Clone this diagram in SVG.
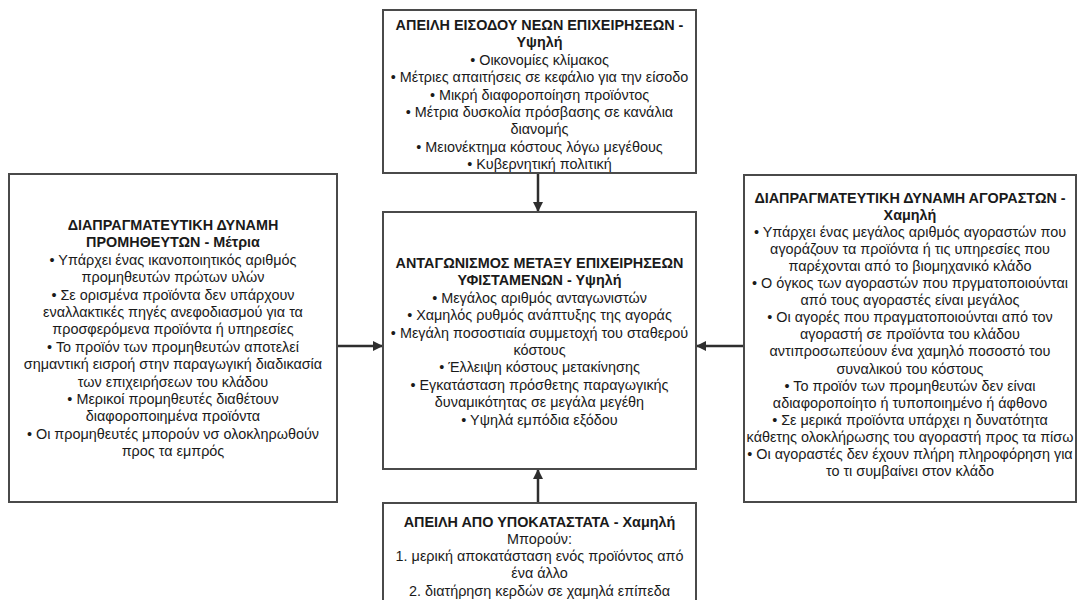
<svg xmlns="http://www.w3.org/2000/svg" width="1085" height="600" viewBox="0 0 1085 600">
  <style>
    .box { fill: #ffffff; stroke: #4a4a4a; stroke-width: 2; }
    text { font-family: "Liberation Sans", Arial, sans-serif; font-size: 14.4px; fill: #1a1a1a; text-anchor: middle; }
    .b { font-weight: bold; }
    .conn { stroke: #2e2e2e; stroke-width: 2.5; fill: none; marker-end: url(#arrow); }
  </style>
  <defs>
    <marker id="arrow" viewBox="0 0 10 10" refX="9" refY="5" markerWidth="4" markerHeight="4" orient="auto">
      <path d="M0,0 L10,5 L0,10 z" fill="#2e2e2e"/>
    </marker>
  </defs>
  <rect width="1085" height="600" fill="#ffffff"/>

  <g id="connectors">
    <line class="conn" x1="538" y1="173" x2="538" y2="211"/>
    <line class="conn" x1="538" y1="503" x2="538" y2="470"/>
    <line class="conn" x1="337" y1="346" x2="382" y2="346"/>
    <line class="conn" x1="744" y1="346" x2="697" y2="346"/>
  </g>

  <g id="entry-threat">
    <rect class="box" x="383" y="10" width="313" height="163"/>
    <text x="539.5" y="30" class="b">ΑΠΕΙΛΗ ΕΙΣΟΔΟΥ ΝΕΩΝ ΕΠΙΧΕΙΡΗΣΕΩΝ -</text>
    <text x="539.5" y="47.4" class="b">Υψηλή</text>
    <text x="539.5" y="64.8">• Οικονομίες κλίμακος</text>
    <text x="539.5" y="82.2">• Μέτριες απαιτήσεις σε κεφάλιο για την είσοδο</text>
    <text x="539.5" y="99.6">• Μικρή διαφοροποίηση προϊόντος</text>
    <text x="539.5" y="117">• Μέτρια δυσκολία πρόσβασης σε κανάλια</text>
    <text x="539.5" y="134.4">διανομής</text>
    <text x="539.5" y="151.8">• Μειονέκτημα κόστους λόγω μεγέθους</text>
    <text x="539.5" y="169.2">• Κυβερνητική πολιτική</text>
  </g>

  <g id="suppliers">
    <rect class="box" x="9" y="174" width="328" height="328"/>
    <text x="173" y="230" class="b">ΔΙΑΠΡΑΓΜΑΤΕΥΤΙΚΗ ΔΥΝΑΜΗ</text>
    <text x="173" y="247.4" class="b">ΠΡΟΜΗΘΕΥΤΩΝ - Μέτρια</text>
    <text x="173" y="264.8">• Υπάρχει ένας ικανοποιητικός αριθμός</text>
    <text x="173" y="282.2">προμηθευτών πρώτων υλών</text>
    <text x="173" y="299.6">• Σε ορισμένα προϊόντα δεν υπάρχουν</text>
    <text x="173" y="317">εναλλακτικές πηγές ανεφοδιασμού για τα</text>
    <text x="173" y="334.4">προσφερόμενα προϊόντα ή υπηρεσίες</text>
    <text x="173" y="351.8">• Το προϊόν των προμηθευτών αποτελεί</text>
    <text x="173" y="369.2">σημαντική εισροή στην παραγωγική διαδικασία</text>
    <text x="173" y="386.6">των επιχειρήσεων του κλάδου</text>
    <text x="173" y="404">• Μερικοί προμηθευτές διαθέτουν</text>
    <text x="173" y="421.4">διαφοροποιημένα προϊόντα</text>
    <text x="173" y="438.8">• Οι προμηθευτές μπορούν νσ ολοκληρωθούν</text>
    <text x="173" y="456.2">προς τα εμπρός</text>
  </g>

  <g id="rivalry">
    <rect class="box" x="383" y="212" width="313" height="257"/>
    <text x="539.5" y="268" class="b">ΑΝΤΑΓΩΝΙΣΜΟΣ ΜΕΤΑΞΥ ΕΠΙΧΕΙΡΗΣΕΩΝ</text>
    <text x="539.5" y="285.4" class="b">ΥΦΙΣΤΑΜΕΝΩΝ - Υψηλή</text>
    <text x="539.5" y="302.8">• Μεγάλος αριθμός ανταγωνιστών</text>
    <text x="539.5" y="320.2">• Χαμηλός ρυθμός ανάπτυξης της αγοράς</text>
    <text x="539.5" y="337.6">• Μεγάλη ποσοστιαία συμμετοχή του σταθερού</text>
    <text x="539.5" y="355">κόστους</text>
    <text x="539.5" y="372.4">• Έλλειψη κόστους μετακίνησης</text>
    <text x="539.5" y="389.8">• Εγκατάσταση πρόσθετης παραγωγικής</text>
    <text x="539.5" y="407.2">δυναμικότητας σε μεγάλα μεγέθη</text>
    <text x="539.5" y="424.6">• Υψηλά εμπόδια εξόδου</text>
  </g>

  <g id="buyers">
    <rect class="box" x="744" y="175" width="332" height="327"/>
    <text x="910" y="202.5" class="b">ΔΙΑΠΡΑΓΜΑΤΕΥΤΙΚΗ ΔΥΝΑΜΗ ΑΓΟΡΑΣΤΩΝ -</text>
    <text x="910" y="219.6" class="b">Χαμηλή</text>
    <text x="910" y="236.7">• Υπάρχει ένας μεγάλος αριθμός αγοραστών που</text>
    <text x="910" y="253.8">αγοράζουν τα προϊόντα ή τις υπηρεσίες που</text>
    <text x="910" y="270.9">παρέχονται από το βιομηχανικό κλάδο</text>
    <text x="910" y="288">• Ο όγκος των αγοραστών που πργματοποιούνται</text>
    <text x="910" y="305.1">από τους αγοραστές είναι μεγάλος</text>
    <text x="910" y="322.2">• Οι αγορές που πραγματοποιούνται από τον</text>
    <text x="910" y="339.3">αγοραστή σε προϊόντα του κλάδου</text>
    <text x="910" y="356.4">αντιπροσωπεύουν ένα χαμηλό ποσοστό του</text>
    <text x="910" y="373.5">συναλικού του κόστους</text>
    <text x="910" y="390.6">• Το προϊόν των προμηθευτών δεν είναι</text>
    <text x="910" y="407.7">αδιαφοροποίητο ή τυποποιημένο ή άφθονο</text>
    <text x="910" y="424.8">• Σε μερικά προϊόντα υπάρχει η δυνατότητα</text>
    <text x="910" y="441.9">κάθετης ολοκλήρωσης του αγοραστή προς τα πίσω</text>
    <text x="910" y="459">• Οι αγοραστές δεν έχουν πλήρη πληροφόρηση για</text>
    <text x="910" y="476.1">το τι συμβαίνει στον κλάδο</text>
  </g>

  <g id="substitutes">
    <rect class="box" x="383" y="503" width="313" height="110"/>
    <text x="539.5" y="526.5" class="b">ΑΠΕΙΛΗ ΑΠΟ ΥΠΟΚΑΤΑΣΤΑΤΑ - Χαμηλή</text>
    <text x="539.5" y="543.8">Μπορούν:</text>
    <text x="539.5" y="561.1">1. μερική αποκατάσταση ενός προϊόντος από</text>
    <text x="539.5" y="578.4">ένα άλλο</text>
    <text x="539.5" y="595.7">2. διατήρηση κερδών σε χαμηλά επίπεδα</text>
  </g>
</svg>
